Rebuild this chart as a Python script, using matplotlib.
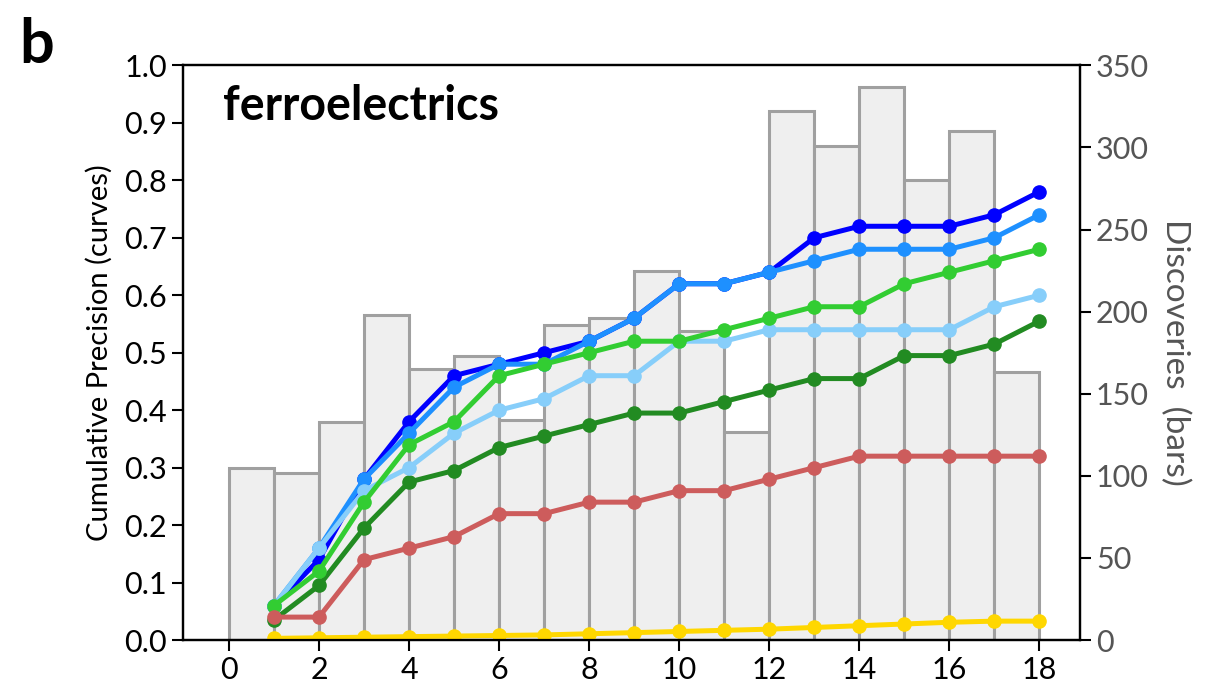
import numpy as np
import matplotlib
matplotlib.use("Agg")
import matplotlib.pyplot as plt

plt.rcParams['font.family'] = ['Lato', 'DejaVu Sans']

# Discoveries per bin (bars, right axis)
bins = np.arange(0, 18)
discoveries = [105, 102, 133, 198, 165, 173, 134, 192, 196, 225, 188, 127, 322, 301, 337, 280, 310, 163]

# Cumulative precision curves (left axis)
steps = np.arange(1, 19)
prec_blue = [0.06, 0.14, 0.28, 0.38, 0.46, 0.48, 0.50, 0.52, 0.56, 0.62, 0.62, 0.64, 0.70, 0.72, 0.72, 0.72, 0.74, 0.78]
prec_dodger = [0.06, 0.16, 0.28, 0.36, 0.44, 0.48, 0.48, 0.52, 0.56, 0.62, 0.62, 0.64, 0.66, 0.68, 0.68, 0.68, 0.70, 0.74]
prec_lightblue = [0.06, 0.16, 0.26, 0.30, 0.36, 0.40, 0.42, 0.46, 0.46, 0.52, 0.52, 0.54, 0.54, 0.54, 0.54, 0.54, 0.58, 0.60]
prec_lime = [0.06, 0.12, 0.24, 0.34, 0.38, 0.46, 0.48, 0.50, 0.52, 0.52, 0.54, 0.56, 0.58, 0.58, 0.62, 0.64, 0.66, 0.68]
prec_forest = [0.035, 0.095, 0.195, 0.275, 0.295, 0.335, 0.355, 0.375, 0.395, 0.395, 0.415, 0.435, 0.455, 0.455, 0.495, 0.495, 0.515, 0.555]
prec_red = [0.04, 0.04, 0.14, 0.16, 0.18, 0.22, 0.22, 0.24, 0.24, 0.26, 0.26, 0.28, 0.30, 0.32, 0.32, 0.32, 0.32, 0.32]
prec_gold = [0.003, 0.004, 0.005, 0.006, 0.007, 0.008, 0.009, 0.011, 0.013, 0.015, 0.017, 0.019, 0.022, 0.025, 0.028, 0.031, 0.033, 0.033]

fig = plt.figure(figsize=(12.12, 6.95), dpi=100)
ax1 = fig.add_axes([0.151, 0.079, 0.740, 0.827])
ax2 = ax1.twinx()

# bars on the secondary axis, behind the curves
ax2.bar(bins, discoveries, width=1.0, align='edge', color='#efefef',
        edgecolor='#a0a0a0', linewidth=2.2)
ax2.set_ylim(0, 350)
ax2.set_yticks(np.arange(0, 351, 50))
ax2.tick_params(axis='y', labelsize=22, labelcolor='#555555', length=8, width=1.5, direction='out')
ax2.set_ylabel("Discoveries  (bars)", fontsize=24, color='#555555', rotation=270, labelpad=30)

ax1.set_zorder(ax2.get_zorder() + 1)
ax1.patch.set_visible(False)

curves = [
    (prec_forest, '#228b22'),
    (prec_blue, '#0000ff'),
    (prec_dodger, '#1e90ff'),
    (prec_lightblue, '#87cefa'),
    (prec_lime, '#32cd32'),
    (prec_red, '#cd5c5c'),
    (prec_gold, '#ffd700'),
]
for vals, col in curves:
    ax1.plot(steps, vals, color=col, linewidth=3.6, marker='o', markersize=9.5)

ax1.set_xlim(-1.02, 18.9)
ax1.set_ylim(0, 1.0)
ax1.set_xticks(np.arange(0, 19, 2))
ax1.set_yticks(np.arange(0, 1.01, 0.1))
ax1.set_yticklabels([f"{v:.1f}" for v in np.arange(0, 1.01, 0.1)])
ax1.tick_params(axis='both', labelsize=22, length=8, width=1.5, direction='out')
ax1.set_ylabel("Cumulative Precision (curves)", fontsize=21, labelpad=8)

for ax in (ax1, ax2):
    for sp in ax.spines.values():
        sp.set_linewidth(1.6)

ax1.text(0.045, 0.93, "ferroelectrics", transform=ax1.transAxes, fontsize=33.5,
         fontweight='bold', va='center', ha='left')
fig.text(0.016, 0.935, "b", fontsize=44, fontweight='bold', va='center', ha='left')

fig.savefig("out.png", dpi=100)
